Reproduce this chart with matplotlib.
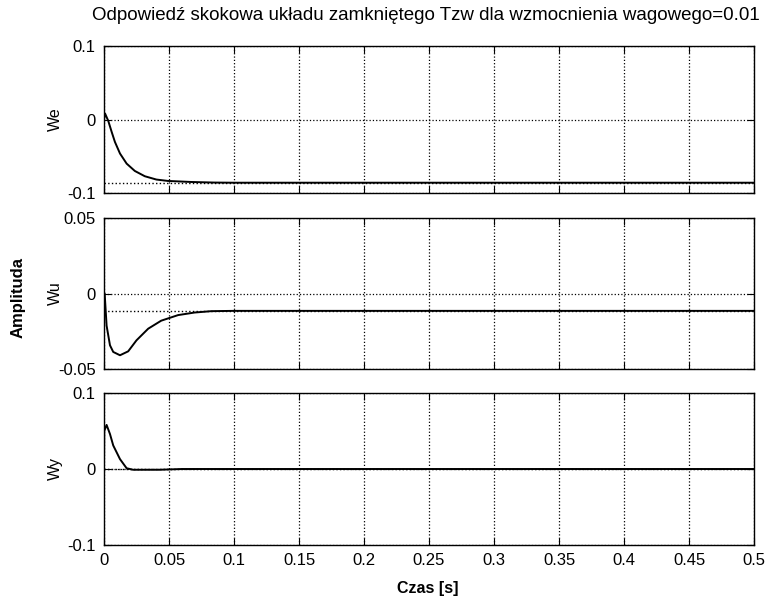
import matplotlib
matplotlib.use('Agg')
import matplotlib.pyplot as plt
import numpy as np

plt.rcParams.update({
    'font.family': ['Liberation Sans', 'DejaVu Sans'],
    'font.size': 11,
    'axes.linewidth': 1.0,
})

# --- data (time in s) ---
t_we = [0, 0.0008, 0.0033, 0.0059, 0.0084, 0.0123, 0.0174, 0.0237, 0.0314,
        0.0403, 0.0492, 0.0671, 0.085, 0.1, 0.5]
we = [0.0, 0.0082, -0.002, -0.0169, -0.0305, -0.0463, -0.060, -0.070, -0.0772,
      -0.0817, -0.0836, -0.085, -0.0858, -0.086, -0.086]

t_wu = [0, 0.0005, 0.002, 0.0046, 0.0071, 0.0123, 0.0186, 0.025, 0.034,
        0.044, 0.057, 0.0697, 0.0825, 0.1, 0.5]
wu = [0.0, 0.0, -0.0213, -0.0343, -0.0387, -0.0409, -0.0383, -0.031, -0.0233,
      -0.018, -0.0143, -0.0126, -0.0117, -0.0115, -0.0115]

t_wy = [0, 0.0002, 0.002, 0.0046, 0.0071, 0.0123, 0.0174, 0.0224, 0.0426,
        0.06, 0.5]
wy = [0.0, 0.050, 0.058, 0.046, 0.031, 0.013, 0.001, -0.001, -0.001, 0.0, 0.0]

series = [
    (t_we, we, 'We', [-0.1, 0, 0.1], ['-0.1', '0', '0.1']),
    (t_wu, wu, 'Wu', [-0.05, 0, 0.05], ['-0.05', '0', '0.05']),
    (t_wy, wy, 'Wy', [-0.1, 0, 0.1], ['-0.1', '0', '0.1']),
]
x_ticks = [0, 0.05, 0.1, 0.15, 0.2, 0.25, 0.3, 0.35, 0.4, 0.45, 0.5]
x_labels = ['0', '0.05', '0.1', '0.15', '0.2', '0.25', '0.3', '0.35', '0.4', '0.45', '0.5']

W, H = 766, 603
fig = plt.figure(figsize=(W / 100, H / 100), dpi=100)

# axes boxes in pixels: (top, bottom)
boxes = [(46, 193), (218, 369), (393, 545)]
left_px, right_px = 104, 754

for i, ((t, y, name, yt, ytl), (top, bot)) in enumerate(zip(series, boxes)):
    ax = fig.add_axes([left_px / W, 1 - bot / H, (right_px - left_px) / W, (bot - top) / H])
    ax.plot(t, y, color='black', linewidth=1.4)
    # steady-state line
    ax.axhline(y[-1], color='black', linestyle=':', linewidth=1.0)
    ax.set_xlim(0, 0.5)
    ax.set_ylim(yt[0], yt[-1])
    ax.set_yticks(yt)
    ax.set_yticklabels(ytl)
    ax.set_xticks(x_ticks)
    if i == 2:
        ax.set_xticklabels(x_labels)
    else:
        ax.set_xticklabels([])
    ax.grid(True, color='black', linestyle=':', linewidth=0.9)
    ax.tick_params(direction='in', top=True, right=True, length=5, labelsize=12, pad=6)
    fig.text(55 / W, 1 - (top + bot) / 2 / H, name, rotation=90,
             ha='center', va='center', fontsize=11.5)

fig.text(426 / W, 1 - 15 / H,
         'Odpowiedź skokowa układu zamkniętego Tzw dla wzmocnienia wagowego=0.01',
         ha='center', va='center', fontsize=13.5)
fig.text(18 / W, 1 - 298 / H, 'Amplituda', rotation=90, ha='center', va='center',
         fontsize=12, fontweight='bold')
fig.text(428 / W, 1 - 588 / H, 'Czas [s]', ha='center', va='center',
         fontsize=11.5, fontweight='bold')

fig.savefig('out.png', dpi=100)
